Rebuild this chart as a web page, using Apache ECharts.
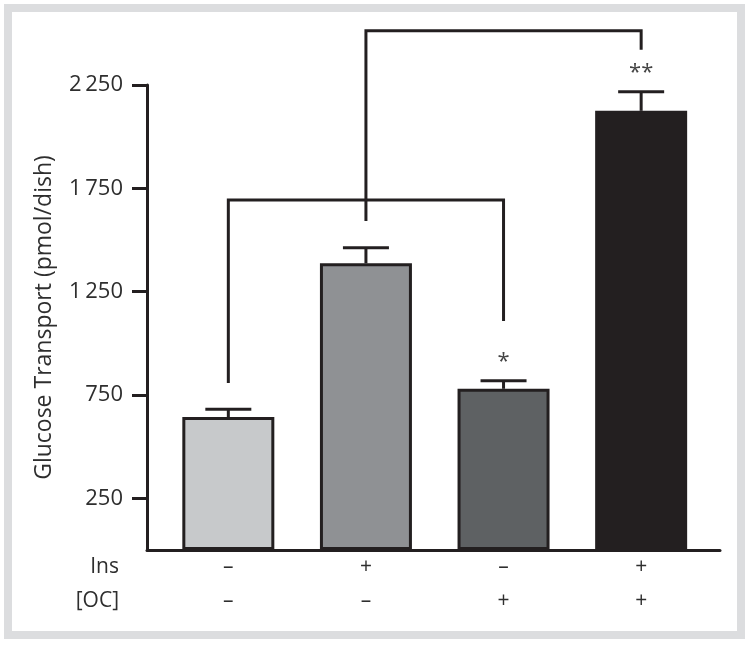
<!DOCTYPE html>
<html>
<head>
<meta charset="utf-8">
<script src="https://cdn.jsdelivr.net/npm/echarts@6/dist/echarts.min.js"></script>
<style>
  html, body { margin: 0; padding: 0; background: #fff; }
  #chart { width: 751px; height: 645px; }
</style>
</head>
<body>
<div id="chart"></div>
<script>
// data
var groups = [0, 1, 2, 3];
var insRow = ['–', '+', '–', '+'];
var ocRow = ['–', '–', '+', '+'];
var rowNames = ['Ins', '[OC]'];
var means = [643, 1387, 780, 2125];
var sems = [38, 76, 39, 92];
var stars = ['', '', '*', '**'];
var barColors = ['#c7c9cb', '#8f9194', '#5e6163', '#231f20'];
var yTicks = [250, 750, 1250, 1750, 2250];
var yTickLabels = ['250', '750', '1\u2009250', '1\u2009750', '2\u2009250'];
// significance brackets: [group, value]
var bracket1 = [[0, 808], [0, 1694], [2, 1694], [2, 1108]];
var bracket2 = [[1, 1592], [1, 2512], [3, 2512], [3, 2420]];

var ink = '#231f20';
var textColor = '#2e2e2e';
var font = '"Open Sans", "Noto Sans", sans-serif';

var chart = echarts.init(document.getElementById('chart'), null, {renderer: 'canvas'});

var barData = groups.map(function (g, i) {
    return {value: [g, means[i]], itemStyle: {color: barColors[i]}};
});
var errData = groups.map(function (g, i) {
    return [g, means[i], sems[i], stars[i]];
});

var option = {
    animation: false,
    backgroundColor: '#fff',
    textStyle: {fontFamily: font},
    graphic: [
        {
            type: 'rect',
            shape: {x: 8, y: 8, width: 733, height: 627},
            style: {fill: null, stroke: '#dcdddf', lineWidth: 8},
            silent: true
        },
        {
            type: 'text',
            x: 119, y: 567,
            style: {text: rowNames[0], align: 'right', verticalAlign: 'middle', fontSize: 21, fontFamily: font, fill: textColor}
        },
        {
            type: 'text',
            x: 119, y: 601,
            style: {text: rowNames[1], align: 'right', verticalAlign: 'middle', fontSize: 21, fontFamily: font, fill: textColor}
        }
    ],
    grid: {left: 147, right: 31, top: 85, bottom: 95, outerBoundsMode: 'none'},
    xAxis: {
        type: 'value',
        min: -0.591,
        max: 3.573,
        axisLine: {show: true, onZero: false, lineStyle: {color: ink, width: 3}},
        axisTick: {show: false},
        splitLine: {show: false},
        axisLabel: {
            customValues: groups,
            margin: 0,
            fontSize: 21,
            lineHeight: 34,
            color: textColor,
            formatter: function (v) {
                var i = Math.round(v);
                return insRow[i] + '\n' + ocRow[i];
            }
        }
    },
    yAxis: {
        type: 'value',
        min: 0,
        max: 2250,
        name: 'Glucose Transport (pmol/dish)',
        nameLocation: 'middle',
        nameGap: 91,
        nameTextStyle: {fontSize: 23, color: textColor, fontFamily: font},
        axisLine: {show: true, onZero: false, lineStyle: {color: ink, width: 3}},
        axisTick: {show: true, customValues: yTicks, length: 15, lineStyle: {color: ink, width: 3}},
        axisLabel: {
            customValues: yTicks,
            margin: 24,
            fontSize: 22,
            color: textColor,
            formatter: function (v) {
                return yTickLabels[yTicks.indexOf(v)];
            }
        },
        splitLine: {show: false}
    },
    series: [
        {
            type: 'bar',
            data: barData,
            barWidth: 92,
            itemStyle: {borderColor: ink, borderWidth: 3}
        },
        {
            type: 'custom',
            data: errData,
            encode: {x: 0, y: 1},
            z: 5,
            renderItem: function (params, api) {
                var x = api.value(0);
                var top = api.coord([x, api.value(1)]);
                var hi = api.coord([x, api.value(1) + api.value(2)]);
                var half = 23;
                var style = {stroke: ink, lineWidth: 3};
                var children = [
                    {type: 'line', shape: {x1: top[0], y1: top[1], x2: hi[0], y2: hi[1]}, style: style},
                    {type: 'line', shape: {x1: hi[0] - half, y1: hi[1], x2: hi[0] + half, y2: hi[1]}, style: style}
                ];
                var s = errData[params.dataIndex][3];
                if (s) {
                    children.push({
                        type: 'text',
                        x: hi[0], y: hi[1] - 19,
                        style: {text: s, align: 'center', verticalAlign: 'middle', fontSize: 22, fontFamily: font, fill: '#444'}
                    });
                }
                return {type: 'group', children: children};
            }
        },
        {
            type: 'line',
            data: bracket1,
            symbol: 'none',
            clip: false,
            z: 6,
            lineStyle: {color: ink, width: 3, join: 'miter', cap: 'butt'}
        },
        {
            type: 'line',
            data: bracket2,
            symbol: 'none',
            clip: false,
            z: 6,
            lineStyle: {color: ink, width: 3, join: 'miter', cap: 'butt'}
        }
    ]
};

chart.setOption(option);
</script>
</body>
</html>
